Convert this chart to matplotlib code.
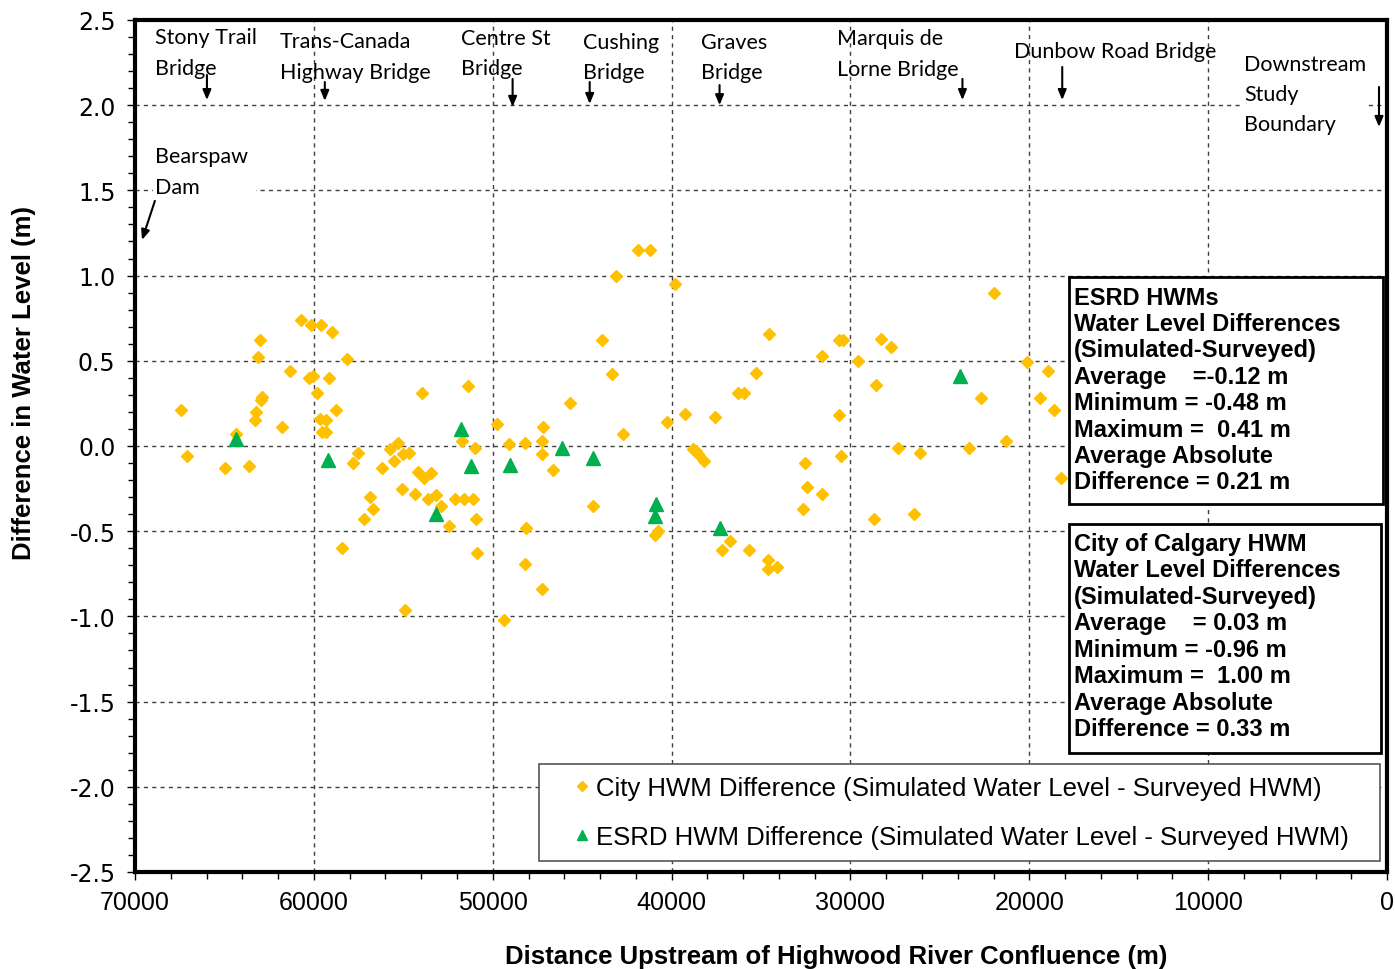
import matplotlib
matplotlib.use("Agg")
import matplotlib.pyplot as plt
from matplotlib.patches import Rectangle
from matplotlib.ticker import MultipleLocator
from matplotlib import font_manager

# donnees : distance (m), difference (m)
city_x = [67450, 67120, 64980, 64360, 63650, 63020, 63100, 62900, 62960, 63210,
          63320, 61780, 61350, 60730, 60150, 59630, 58960, 60280, 60070, 59180,
          58160, 59800, 58770, 59670, 59300, 59570, 59300, 57550, 57810, 55760,
          55270, 55010, 54700, 55530, 56200, 55050, 56840, 56670, 57210, 58440,
          54900, 54180, 53430, 53860, 54360, 53620, 53200, 52870, 52460, 52130,
          51610, 51120, 50920, 50880, 53970, 51400, 51740, 50970, 49760, 49090,
          48200, 47250, 47250, 47210, 46630, 45700, 48130, 48190, 47270, 49380,
          44400, 43130, 41860, 41190, 39820, 43880, 43360, 42690, 40230, 39260,
          40930, 40770, 38810, 38650, 38530, 38210, 37580, 36280, 35940, 35270,
          34530, 37170, 36720, 35700, 34620, 34620, 34110, 32550, 32420, 31580,
          32660, 31600, 30620, 30390, 30620, 30520, 29590, 28310, 27710, 28580,
          28700, 27320, 26110, 26450, 23350, 22680, 21960, 21300, 20130, 19400,
          18960, 18600, 18210]
city_y = [0.21, -0.06, -0.13, 0.07, -0.12, 0.62, 0.52, 0.29, 0.27, 0.20,
          0.15, 0.11, 0.44, 0.74, 0.71, 0.71, 0.67, 0.40, 0.41, 0.40,
          0.51, 0.31, 0.21, 0.16, 0.15, 0.08, 0.08, -0.04, -0.10, -0.02,
          0.02, -0.05, -0.04, -0.09, -0.13, -0.25, -0.30, -0.37, -0.43, -0.60,
          -0.96, -0.15, -0.16, -0.19, -0.28, -0.31, -0.29, -0.35, -0.47, -0.31,
          -0.31, -0.31, -0.43, -0.63, 0.31, 0.35, 0.03, -0.01, 0.13, 0.01,
          0.02, 0.03, -0.05, 0.11, -0.14, 0.25, -0.48, -0.69, -0.84, -1.02,
          -0.35, 1.00, 1.15, 1.15, 0.95, 0.62, 0.42, 0.07, 0.14, 0.19,
          -0.52, -0.50, -0.02, -0.03, -0.05, -0.09, 0.17, 0.31, 0.31, 0.43,
          0.66, -0.61, -0.56, -0.61, -0.67, -0.72, -0.71, -0.10, -0.24, -0.28,
          -0.37, 0.53, 0.62, 0.62, 0.18, -0.06, 0.50, 0.63, 0.58, 0.36,
          -0.43, -0.01, -0.04, -0.40, -0.01, 0.28, 0.90, 0.03, 0.49, 0.28,
          0.44, 0.21, -0.19]

esrd_x = [64360, 59220, 53200, 51800, 51220, 49030, 46110, 44400, 40900, 40950,
          37280, 23860]
esrd_y = [0.04, -0.08, -0.40, 0.10, -0.12, -0.11, -0.01, -0.07, -0.34, -0.41,
          -0.48, 0.41]

# ponts : texte, position du texte, fleche (x, y depart, y arrivee)
site_labels = ["Stony Trail\nBridge", "Trans-Canada\nHighway Bridge", "Centre St\nBridge",
               "Cushing\nBridge", "Graves\nBridge", "Marquis de\nLorne Bridge",
               "Dunbow Road Bridge", "Downstream\nStudy\nBoundary"]
label_x = [68890, 61900, 51790, 44970, 38380, 30730, 20840, 7990]
label_y = [2.31, 2.286, 2.306, 2.283, 2.283, 2.303, 2.318, 2.065]
arrow_x = [65980, 59390, 48890, 44580, 37320, 23740, 18160, 450]
arrow_top = [2.177, 2.136, 2.154, 2.136, 2.118, 2.154, 2.224, 2.107]
arrow_tip = [2.03, 2.025, 1.99, 2.007, 2.0, 2.03, 2.03, 1.872]

esrd_stats = ("ESRD HWMs\nWater Level Differences\n(Simulated-Surveyed)\n"
              "Average    =-0.12 m\nMinimum = -0.48 m\nMaximum =  0.41 m\n"
              "Average Absolute\nDifference = 0.21 m")
city_stats = ("City of Calgary HWM\nWater Level Differences\n(Simulated-Surveyed)\n"
              "Average    = 0.03 m\nMinimum = -0.96 m\nMaximum =  1.00 m\n"
              "Average Absolute\nDifference = 0.33 m")

names = set(f.name for f in font_manager.fontManager.ttflist)
narrow = "Liberation Sans Narrow" if "Liberation Sans Narrow" in names else "Liberation Sans"
plt.rcParams['font.family'] = ["Liberation Sans", "DejaVu Sans"]

fig = plt.figure(figsize=(13.95, 9.7), dpi=100)
ax = fig.add_axes([0.0968, 0.1, 0.8975, 0.8784])

ax.plot(city_x, city_y, 'D', color='#FFC000', ms=6.5, mec='#FFC000', ls='none',
        label='City HWM Difference (Simulated Water Level - Surveyed HWM)', zorder=3)
ax.plot(esrd_x, esrd_y, '^', color='#00B050', ms=10, mec='#00B050', ls='none',
        label='ESRD HWM Difference (Simulated Water Level - Surveyed HWM)', zorder=3)

ax.set_xlim(70000, 0)
ax.set_ylim(-2.5, 2.5)
ax.xaxis.set_major_locator(MultipleLocator(10000))
ax.xaxis.set_minor_locator(MultipleLocator(2000))
ax.yaxis.set_major_locator(MultipleLocator(0.5))
ax.yaxis.set_minor_locator(MultipleLocator(0.1))
ax.yaxis.set_major_formatter(plt.FuncFormatter(lambda v, p: "%.1f" % v))
ax.grid(True, which='major', ls=(0, (3, 3)), color='#404040', lw=1)
ax.tick_params(which='both', direction='out', width=1)
ax.tick_params(which='major', length=6)
ax.tick_params(which='minor', length=5)
ax.tick_params(axis='y', labelsize=17, pad=8)
ax.tick_params(axis='x', labelsize=18, pad=7)
for lab in ax.get_yticklabels():
    lab.set_family("DejaVu Sans")
for lab in ax.get_xticklabels():
    lab.set_family(narrow)
for sp in ax.spines.values():
    sp.set_linewidth(3)

ax.set_xlabel("Distance Upstream of Highwood River Confluence (m)", fontsize=18.5,
              fontweight='bold', family=narrow)
ax.xaxis.set_label_coords(0.56, -0.0845)
ax.set_ylabel("Difference in Water Level (m)", fontsize=18.5, fontweight='bold', family=narrow)
ax.yaxis.set_label_coords(-0.079, 0.575)

# annotations des ponts
for txt, tx, ty in zip(site_labels, label_x, label_y):
    bg = dict(fc='white', ec='none', pad=1) if txt.startswith("Downstream") else None
    ax.text(tx, ty, txt, ha='left', va='center', fontsize=15.5, family='Lato',
            linespacing=1.65, bbox=bg, zorder=2)
arrow_style = dict(arrowstyle='-|>,head_length=0.6,head_width=0.25', color='black',
                   lw=1.5, shrinkA=0, shrinkB=0)
for x, y0, y1 in zip(arrow_x, arrow_top, arrow_tip):
    ax.annotate('', xy=(x, y1), xytext=(x, y0), arrowprops=arrow_style, zorder=4)
ax.text(68890, 1.611, "Bearspaw \nDam", ha='left', va='center', fontsize=15.5,
        family='Lato', linespacing=1.65, zorder=2,
        bbox=dict(fc='white', ec='none', boxstyle='square,pad=0.1'))
ax.annotate('', xy=(69610, 1.209), xytext=(68890, 1.438), arrowprops=arrow_style, zorder=4)

# encadres des statistiques
ax.add_patch(Rectangle((0.746, 0.4319), 0.2508, 0.2665, transform=ax.transAxes,
                       fc='white', ec='black', lw=2, zorder=5))
ax.text(0.75, 0.5663, esrd_stats, transform=ax.transAxes, ha='left', va='center',
        fontsize=17, fontweight='bold', linespacing=1.19, zorder=6)
ax.add_patch(Rectangle((0.746, 0.1397), 0.2492, 0.2688, transform=ax.transAxes,
                       fc='white', ec='black', lw=2, zorder=5))
ax.text(0.75, 0.277, city_stats, transform=ax.transAxes, ha='left', va='center',
        fontsize=17, fontweight='bold', linespacing=1.19, zorder=6)

# cadre de legende dessine a part, legende sans cadre a l'interieur
ax.add_patch(Rectangle((0.3227, 0.0129), 0.6717, 0.1139, transform=ax.transAxes,
                       fc='white', ec='#555555', lw=1.2, zorder=6))
leg = ax.legend(loc='center left', bbox_to_anchor=(0.3515, 0.0699), borderaxespad=0,
                fontsize=18.5, frameon=False, handlelength=0.5, handletextpad=0.3,
                labelspacing=0.95, borderpad=0, markerscale=0.75)
leg.set_zorder(7)

fig.savefig("out.png", dpi=100)
